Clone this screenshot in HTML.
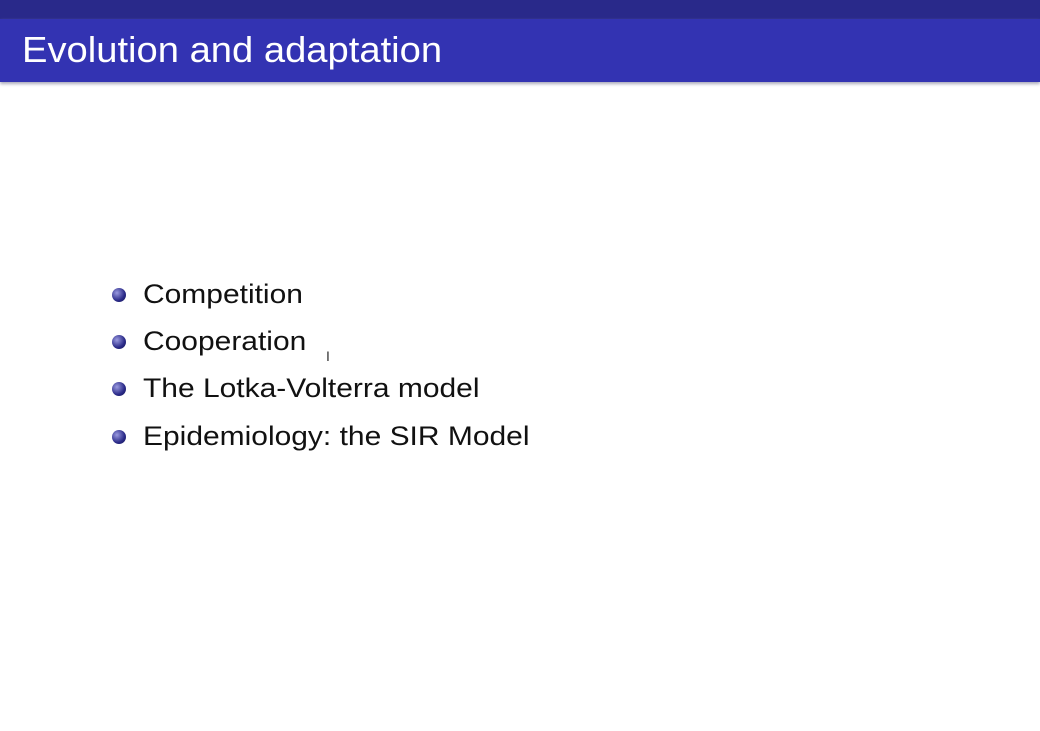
<!DOCTYPE html>
<html><head><meta charset="utf-8"><style>
body{margin:0;width:1040px;height:731px;background:#fff;position:relative;overflow:hidden;font-family:"Liberation Sans",sans-serif}
#top{position:absolute;left:0;top:0;width:1040px;height:19px;background:#29298a}
#bar{position:absolute;left:0;top:19px;width:1040px;height:63px;background:#3333b2;box-shadow:0 2px 3px #aab}
#title{position:absolute;left:22px;top:30px;color:#fff;font-size:36px;line-height:40px;white-space:nowrap;transform-origin:0 50%;transform:scaleX(1.06)}
.item{position:absolute;left:143px;font-size:27px;line-height:30px;color:#111;white-space:nowrap;transform-origin:0 50%;transform:scaleX(1.11)}
.dot{position:absolute;left:112px;width:14px;height:14px;border-radius:50%;background:radial-gradient(circle at 35% 35%,#9a9ae0,#2a2a88 60%,#141450)}
</style></head><body>
<div id="top"></div>
<div id="bar"></div>
<div id="title">Evolution and adaptation</div>
<div class="dot" style="top:288px"></div>
<div class="item" style="top:279px">Competition</div>
<div class="dot" style="top:335px"></div>
<div class="item" style="top:326px">Cooperation</div>
<div class="dot" style="top:382px"></div>
<div class="item" style="top:373px">The Lotka-Volterra model</div>
<div class="dot" style="top:430px"></div>
<div class="item" style="top:421px">Epidemiology: the SIR Model</div>
<div style="position:absolute;left:326px;top:348px;font-size:14px;color:#333">I</div>
</body></html>
